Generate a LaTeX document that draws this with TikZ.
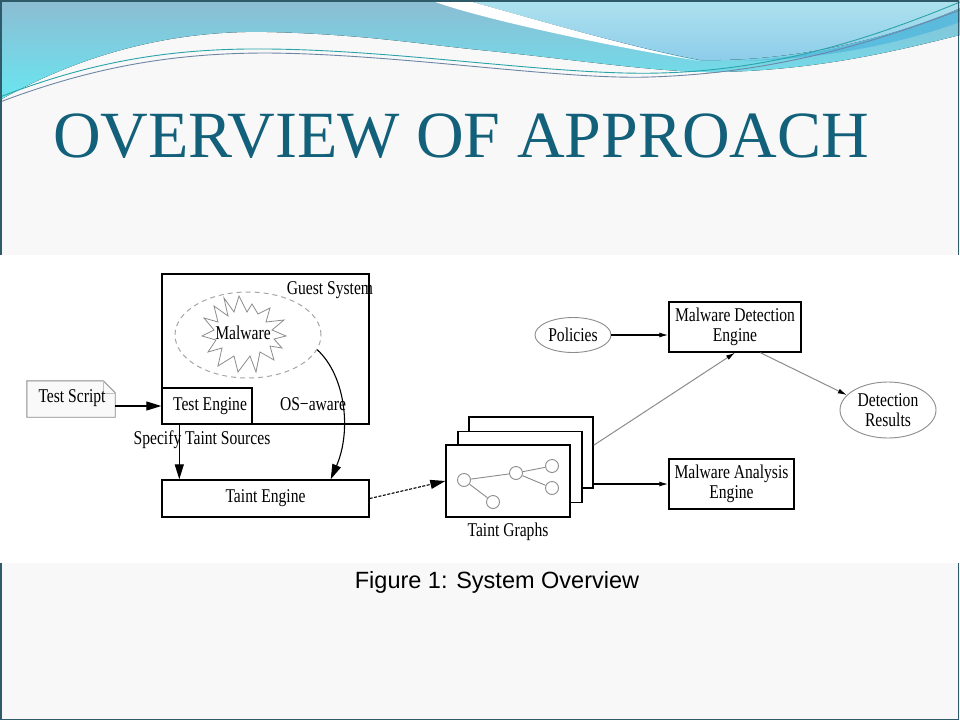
\documentclass[tikz,border=0pt]{standalone}
\usepackage{fontspec}
\setmainfont{Liberation Serif}
\newfontfamily\dfont[FakeStretch=0.8]{Liberation Serif}
\newfontfamily\tfont{Liberation Serif}
\newfontfamily\cfont{Liberation Sans}
\usetikzlibrary{arrows.meta,shapes.geometric,calc}
\definecolor{titlec}{HTML}{12607A}
\definecolor{bgc}{HTML}{F8F8F8}
\definecolor{framec}{HTML}{2F5A6A}
\definecolor{bandtop}{HTML}{8CBCD2}
\definecolor{bandbot}{HTML}{69E6F1}
\definecolor{urtop}{HTML}{AEE2EE}
\definecolor{urbot}{HTML}{8CCCEA}
\definecolor{streak}{HTML}{52B8DE}
\definecolor{lineA}{HTML}{2AA3A8}
\definecolor{lineB}{HTML}{6D86A6}
\definecolor{grayln}{HTML}{8C8C8C}
\begin{document}
\begin{tikzpicture}[x=1pt,y=-1pt,
  box/.style={draw=black,line width=1.4pt,fill=white,inner sep=0pt},
  lbl/.style={font=\dfont\fontsize{19.5}{20}\selectfont,inner sep=0pt,align=center},
  bigtip/.style={-{Triangle[length=15pt,width=9pt]}},
  smalltip/.style={-{Latex[length=9pt,width=5pt,color=black]}},
  grayell/.style={ellipse,draw=grayln,line width=0.9pt,inner sep=0pt}
]
\useasboundingbox (0,0) rectangle (960,720);
% slide background
\fill[bgc] (0,0) rectangle (960,720);
% banner
\fill[top color=bandtop,bottom color=bandbot] (0,0) -- (0,100) .. controls (80,55) and (170,30) .. (267,32) .. controls (360,34) and (420,44) .. (480,50) .. controls (580,60) and (660,73) .. (720,72) .. controls (820,70) and (900,50) .. (960,35) -- (960,0) -- cycle;
\fill[top color=urtop,bottom color=urbot] (465,0) .. controls (520,15) and (620,45) .. (700,60) .. controls (800,62) and (900,35) .. (960,8) -- (960,0) -- cycle;
\fill[white] (430,0) .. controls (470,16) and (600,45) .. (700,61) .. controls (620,45) and (520,15) .. (465,0) -- cycle;
\fill[streak,opacity=0.8] (740,61) .. controls (820,58) and (900,32) .. (960,9) -- (960,22) .. controls (900,44) and (820,60) .. (740,61) -- cycle;
\draw[lineA,line width=0.9pt] (0,97) .. controls (90,62) and (170,48) .. (267,49) .. controls (400,50) and (560,76) .. (660,73) .. controls (780,70) and (880,35) .. (960,2);
\draw[lineB,line width=0.9pt] (0,102) .. controls (90,68) and (170,53) .. (267,53) .. controls (400,54) and (560,80) .. (650,77) .. controls (780,73) and (880,40) .. (960,10);
% frame
\draw[framec,line width=1.5pt] (0.75,0.75) rectangle (958.5,719.25);
% white figure area
\fill[white] (0,255) rectangle (960,563);
% title
\node[anchor=base west,inner sep=0pt,font=\tfont\fontsize{66}{66}\selectfont,text=titlec] (title) at (53,157) {OVERVIEW OF APPROACH};
% guest system
\node[box,minimum width=207pt,minimum height=150pt] (guest) at (265.5,349) {};
\node[ellipse,draw=gray!70,line width=1pt,dash pattern=on 5pt off 4pt,minimum width=146pt,minimum height=86pt,inner sep=0pt] (env) at (248,335) {};
\draw[grayln,line width=0.8pt,line join=miter,shift={(244,334)}]
  (-5,-38) -- (3,-22) -- (8,-30) -- (14,-20) -- (26,-26) -- (22,-12) -- (40,-14) -- (28,-4) -- (42,2) -- (30,5) -- (38,14) -- (26,12) -- (30,26) -- (16,18) -- (12,38) -- (6,22) -- (-6,38) -- (-10,22) -- (-26,32) -- (-22,14) -- (-36,18) -- (-28,6) -- (-42,2) -- (-30,-4) -- (-40,-16) -- (-26,-12) -- (-30,-28) -- (-16,-18) -- (-20,-36) -- (-10,-22) -- cycle;
\node[lbl] (mal) at (243,333) {Malware};
\node[lbl] (gs) at (330,290) {Guest System};
\node[lbl] (os) at (313,404) {OS−aware};
\node[box,lbl,minimum width=90pt,minimum height=36pt] (te) at (207,406) {\hspace*{6pt}Test Engine};
% test script
\node[minimum width=88pt,minimum height=36pt,inner sep=0pt] (ts) at (71,399) {};
\draw[grayln,fill=gray!5,line width=0.9pt] (ts.south west) -- (ts.north west) -- ($(ts.north east)+(-12,0)$) -- ($(ts.north east)+(0,12)$) -- (ts.south east) -- cycle;
\draw[gray!50,line width=0.6pt] ($(ts.north east)+(-12,0)$) -- ($(ts.north east)+(-12,12)$) -- ($(ts.north east)+(0,12)$);
\node[lbl] (tstxt) at (72,398) {Test Script};
% taint engine
\node[box,lbl,minimum width=207pt,minimum height=37pt] (tnt) at (265.5,498.5) {Taint Engine};
\node[lbl] (spec) at (202,440) {Specify Taint Sources};
% graph stack
\node[box,minimum width=124pt,minimum height=71pt] (g3) at (531,452.5) {};
\node[box,minimum width=124pt,minimum height=71pt] (g2) at (520,467) {};
\node[box,minimum width=124pt,minimum height=72pt] (g1) at (508,481) {};
\foreach \n/\p in {c1/{(464,480)},c2/{(493,502)},c3/{(516,473)},c4/{(552,466)},c5/{(552,488)}}
  \node[circle,draw=grayln,line width=0.9pt,minimum size=13pt,inner sep=0pt] (\n) at \p {};
\draw[grayln,line width=0.9pt] (c1) -- (c3) (c1) -- (c2) (c3) -- (c4) (c3) -- (c5);
\node[lbl] (tg) at (508,532) {Taint Graphs};
% right side
\node[lbl,grayell,minimum width=76pt,minimum height=35pt] (pol) at (573,335) {Policies};
\node[box,lbl,minimum width=132pt,minimum height=50pt] (mde) at (735,327) {Malware Detection\\Engine};
\node[box,lbl,minimum width=125pt,minimum height=50pt] (mae) at (731.5,484) {Malware Analysis\\Engine};
\node[lbl,grayell,minimum width=96pt,minimum height=56pt] (dr) at (888,410) {Detection\\Results};
% connectors
\draw[bigtip,line width=1.2pt] (ts.east |- te.west) -- (te.west);
\draw[bigtip,line width=1.2pt] ($(te.south west)+(18,0)$) -- ($(tnt.north west)+(18,0)$);
\draw[bigtip,line width=1.1pt] (env.-12) .. controls (345,375) and (352,430) .. ($(tnt.north east)+(-39,0)$);
\draw[bigtip,line width=1.1pt,dash pattern=on 3pt off 1.5pt] (tnt.east) -- (g1.west);
\draw[smalltip,line width=1.2pt] (pol.east) -- (pol.east -| mde.west);
\draw[smalltip,line width=1.2pt] (mae.west -| g3.east) -- (mae.west);
\draw[smalltip,grayln,line width=1pt] ($(g3.north east)!0.4!(g3.south east)$) -- (mde.south);
\draw[smalltip,grayln,line width=1pt] ($(mde.south)!0.38!(mde.south east)$) -- (dr.160);
% caption
\node[font=\cfont\fontsize{23.5}{26}\selectfont,inner sep=0pt] (cap) at (497,582) {Figure 1: System Overview};
\end{tikzpicture}
\end{document}
